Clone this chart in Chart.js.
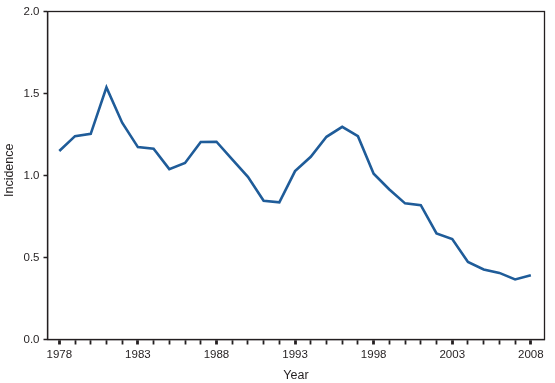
<!DOCTYPE html>
<html><head><meta charset="utf-8">
<script src="https://cdn.jsdelivr.net/npm/chart.js@4"></script>
<style>html,body{margin:0;padding:0;background:#fff}#wrap{width:555px;height:383px}</style>
</head><body><div id="wrap"><canvas id="c" width="555" height="383"></canvas></div>
<script>
const years = [1978,1979,1980,1981,1982,1983,1984,1985,1986,1987,1988,1989,1990,1991,1992,1993,1994,1995,1996,1997,1998,1999,2000,2001,2002,2003,2004,2005,2006,2007,2008];
const incidence = [1.149,1.240,1.254,1.537,1.322,1.173,1.163,1.039,1.076,1.204,1.206,1.098,0.992,0.846,0.836,1.027,1.114,1.236,1.297,1.240,1.011,0.915,0.830,0.819,0.647,0.612,0.473,0.427,0.406,0.366,0.392];
const labeledYears = [1978,1983,1988,1993,1998,2003,2008];
const yTicks = [0,0.5,1.0,1.5,2.0];

const ink = '#231f20';
const fam = 'Liberation Sans, Arial, sans-serif';
const framePlugin = {
  id:'frame',
  afterDraw(chart){
    const {ctx, chartArea:a} = chart;
    ctx.save();
    ctx.strokeStyle = ink; ctx.lineWidth = 1.3;
    ctx.strokeRect(a.left, a.top, a.right-a.left, a.bottom-a.top);
    ctx.restore();
  }
};

new Chart(document.getElementById('c'), {
  type:'line',
  data:{ datasets:[{
    data: years.map((y,i)=>({x:y, y:incidence[i]})),
    borderColor:'#1f5c99', borderWidth:2.6, pointRadius:0, tension:0, fill:false
  }]},
  options:{
    responsive:false, animation:false, devicePixelRatio:1,
    layout:{padding:{top:11.5,right:10.5,left:0,bottom:0}},
    plugins:{legend:{display:false}, tooltip:{enabled:false}},
    scales:{
      x:{
        type:'linear', min:1977.25, max:2008.87,
        afterBuildTicks(s){ s.ticks = years.map(v=>({value:v})); },
        afterFit(s){ s.height = 43.5; },
        ticks:{autoSkip:false, maxRotation:0, padding:3, color:ink,
          font:{family:fam, size:11.5},
          callback:(v)=> labeledYears.includes(v) ? String(v) : ''},
        grid:{drawOnChartArea:false, tickLength:5, tickColor:ink,
          tickWidth:(c)=> (c.tick && labeledYears.includes(c.tick.value)) ? 2.8 : 1.8},
        border:{color:ink, width:1.3},
        title:{display:true, text:'Year', color:ink, padding:{top:0,bottom:0},
          font:{family:fam, size:12.5}}
      },
      y:{
        min:0, max:2.0,
        afterBuildTicks(s){ s.ticks = yTicks.map(v=>({value:v})); },
        afterFit(s){ s.width = 47.5; },
        ticks:{padding:4, color:ink, font:{family:fam, size:11.5},
          callback:(v)=> v.toFixed(1)},
        grid:{drawOnChartArea:false, tickLength:4, tickColor:ink, tickWidth:1.5},
        border:{color:ink, width:1.3},
        title:{display:true, text:'   Incidence', color:ink, padding:{top:2,bottom:0},
          font:{family:fam, size:12.5}}
      }
    }
  },
  plugins:[framePlugin]
});
</script></body></html>
